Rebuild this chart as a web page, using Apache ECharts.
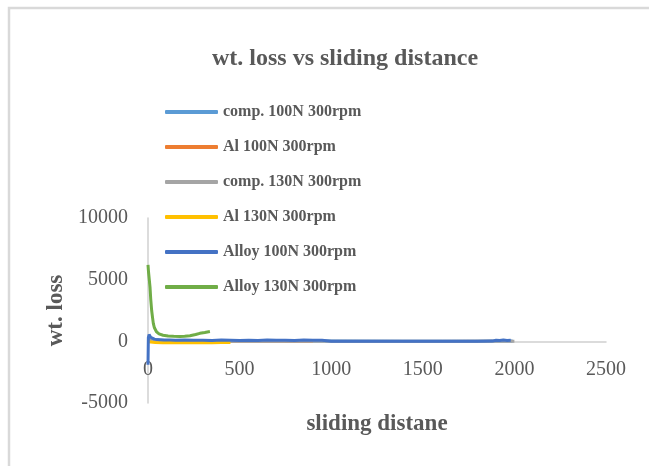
<!DOCTYPE html>
<html>
<head>
<meta charset="utf-8">
<script src="https://cdn.jsdelivr.net/npm/echarts@6/dist/echarts.min.js"></script>
<style>
  html, body { margin: 0; padding: 0; background: #fff; }
  #chart { width: 649px; height: 466px; }
</style>
</head>
<body>
<div id="chart"></div>
<script>
// wt. loss vs sliding distance
var seriesNames = [
    'comp. 100N 300rpm', 'Al 100N 300rpm', 'comp. 130N 300rpm',
    'Al 130N 300rpm', 'Alloy 100N 300rpm', 'Alloy 130N 300rpm'
];
var xTicks = [0, 500, 1000, 1500, 2000, 2500];
var yTicks = [-5000, 0, 5000, 10000];

// comp. 100N (hidden under the others, near zero)
var comp100X = [0, 5, 20, 100, 300, 600, 1000, 1400, 1800, 1990];
var comp100Y = [60, 120, 60, 40, 30, 30, 20, 10, 10, 20];

// Al 100N (hidden, near zero)
var al100X = [0, 5, 20, 100, 300, 600, 900];
var al100Y = [40, 90, 50, 30, 20, 20, 10];

// comp. 130N (near zero up to 2000)
var comp130X = [0, 5, 20, 100, 400, 800, 1200, 1600, 1900, 2000];
var comp130Y = [30, 80, 40, 20, 10, 10, 10, 10, 20, 10];

// Al 130N (slightly below zero up to ~450)
var al130X = [2, 10, 40, 80, 120, 160, 200, 250, 300, 350, 400, 450];
var al130Y = [-40, -90, -100, -110, -100, -110, -100, -120, -90, -110, -100, -90];

// Alloy 100N
var alloy100X = [0, 2, 6, 10, 15, 25, 35, 50, 70, 90, 120, 150, 200, 250, 300, 350, 400,
    450, 500, 550, 600, 650, 700, 750, 800, 850, 900, 950, 1000, 1200, 1400, 1600,
    1800, 1880, 1900, 1920, 1940, 1960, 1980];
var alloy100Y = [-1900, 300, 550, 450, 320, 230, 180, 140, 120, 100, 110, 90, 100, 80, 90, 70, 100,
    80, 60, 90, 70, 100, 80, 90, 70, 100, 80, 90, 10, 5, 5, 5,
    10, 20, 90, 60, 110, 70, 90];

// Alloy 130N
var alloy130X = [0, 3, 7, 11, 15, 20, 25, 29, 35, 47, 60, 82, 110, 140, 174, 200, 229,
    260, 283, 310, 338];
var alloy130Y = [6200, 5600, 5000, 4400, 3400, 2500, 1900, 1460, 1100, 760, 600, 490, 430, 410, 400, 420, 450,
    550, 650, 720, 800];

var seriesX = [comp100X, al100X, comp130X, al130X, alloy100X, alloy130X];
var seriesY = [comp100Y, al100Y, comp130Y, al130Y, alloy100Y, alloy130Y];
var colors = ['#5B9BD5', '#ED7D31', '#A5A5A5', '#FFC000', '#4472C4', '#70AD47'];

function pairs(xs, ys) {
    return xs.map(function(x, i) { return [x, ys[i]]; });
}

var chart = echarts.init(document.getElementById('chart'));

var textColor = '#595959';
var serif = '"Liberation Serif", "Times New Roman", serif';

var option = {
    animation: false,
    color: colors,
    title: {
        text: 'wt. loss vs sliding distance',
        left: 212,
        top: 47,
        padding: 0,
        textStyle: {
            fontFamily: serif,
            fontSize: 24,
            fontWeight: 'bold',
            color: textColor
        }
    },
    legend: {
        orient: 'vertical',
        left: 165,
        top: 104,
        padding: 0,
        icon: 'roundRect',
        itemWidth: 53,
        itemHeight: 4,
        itemGap: 19,
        data: seriesNames,
        textStyle: {
            fontFamily: serif,
            fontSize: 16,
            fontWeight: 'bold',
            color: textColor,
            lineHeight: 16,
            padding: [0, 0, 0, 0]
        }
    },
    grid: {
        left: 148,
        right: 43,
        top: 218,
        bottom: 63,
        containLabel: false,
        outerBoundsMode: 'none'
    },
    xAxis: {
        type: 'value',
        min: 0,
        max: 2500,
        interval: 500,
        name: 'sliding distane',
        nameLocation: 'middle',
        nameGap: 10,
        nameTextStyle: {
            fontFamily: serif,
            fontSize: 23,
            fontWeight: 'bold',
            color: textColor
        },
        axisLine: { onZero: true, lineStyle: { color: '#d0d0d0', width: 1.5 } },
        axisTick: { show: false },
        splitLine: { show: false },
        axisLabel: {
            margin: -43,
            fontFamily: serif,
            fontSize: 20,
            color: textColor,
            customValues: xTicks,
            formatter: function(v) { return String(v); }
        }
    },
    yAxis: {
        type: 'value',
        min: -5000,
        max: 10000,
        interval: 5000,
        name: 'wt. loss',
        nameLocation: 'middle',
        nameGap: 77,
        nameTextStyle: {
            fontFamily: serif,
            fontSize: 23,
            fontWeight: 'bold',
            color: textColor
        },
        axisLine: { show: true, lineStyle: { color: '#d0d0d0', width: 1.5 } },
        axisTick: { show: false },
        splitLine: { show: false },
        axisLabel: {
            margin: 20,
            fontFamily: serif,
            fontSize: 20,
            color: textColor,
            customValues: yTicks,
            formatter: function(v) { return String(v); }
        }
    },
    graphic: [{
        type: 'rect',
        shape: { x: 9, y: 8, width: 700, height: 520 },
        style: { fill: 'none', stroke: '#d9d9d9', lineWidth: 2.5 },
        silent: true
    }],
    series: seriesNames.map(function(name, i) {
        return {
            name: name,
            type: 'line',
            data: pairs(seriesX[i], seriesY[i]),
            showSymbol: false,
            symbol: 'none',
            lineStyle: { width: 3, color: colors[i] },
            itemStyle: { color: colors[i] }
        };
    })
};

chart.setOption(option);
</script>
</body>
</html>
